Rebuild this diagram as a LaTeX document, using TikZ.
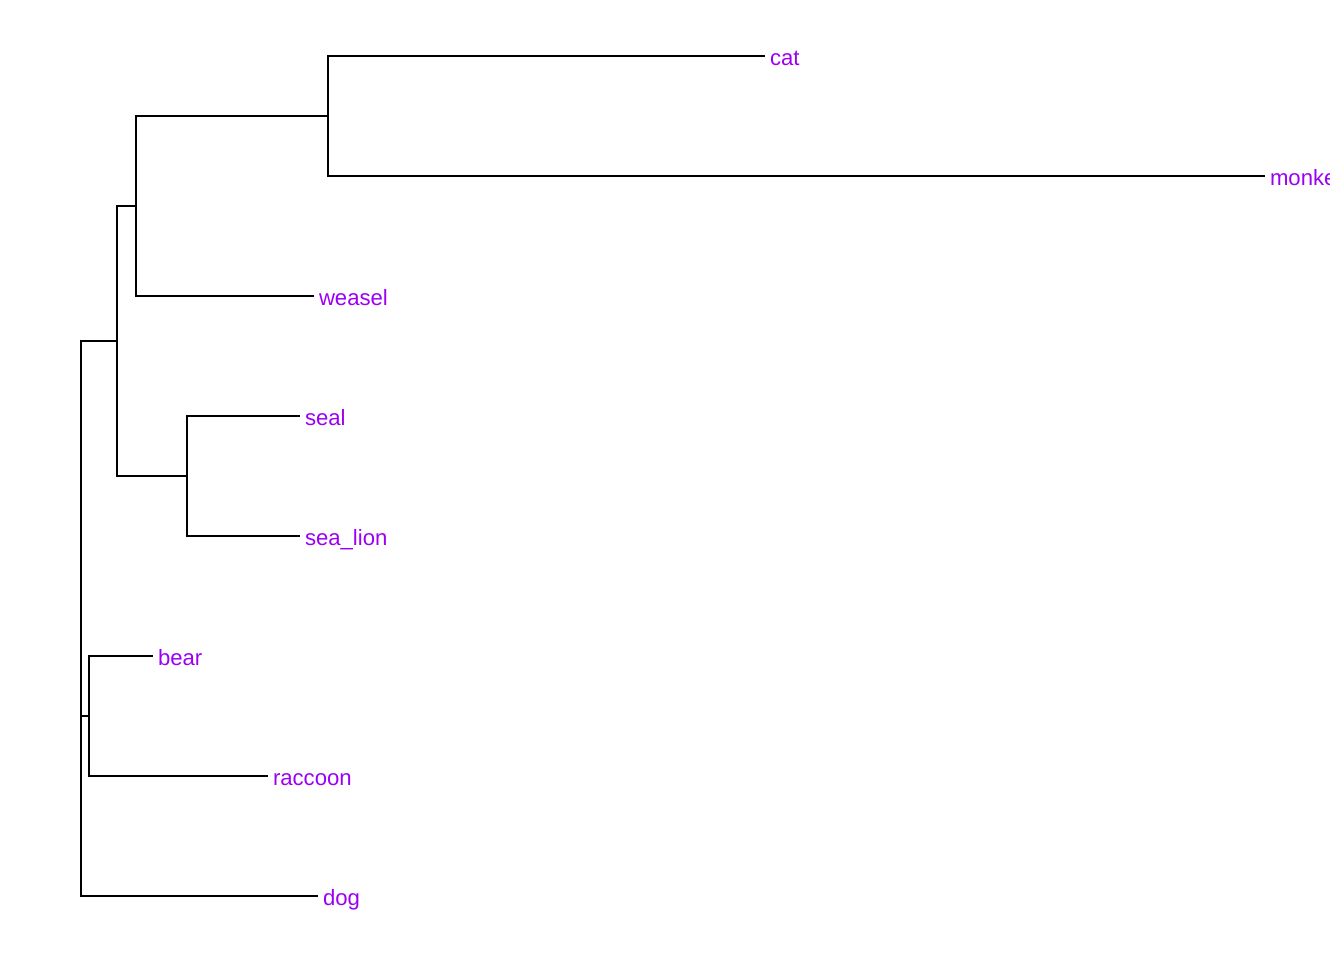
\documentclass[tikz,border=0pt]{standalone}
\usepackage{fontspec}
\setmainfont{Liberation Sans}
\definecolor{tiplab}{RGB}{155,0,245}
\begin{document}
\begin{tikzpicture}[x=0.75pt,y=-0.75pt,
  branch/.style={line width=2.1pt,line cap=rect,line join=miter},
  tiplabel/.style={text=tiplab,anchor=base west,inner sep=0pt,
    xshift=4.3pt,yshift=-6.9pt,font=\fontsize{16.6pt}{19pt}\selectfont}]
\useasboundingbox (0,0) rectangle (1344,960);
% internal nodes of the tree
\coordinate (root) at (81,618);
\coordinate (carn) at (117,341);
\coordinate (mus)  at (136,206);
\coordinate (cm)   at (328,116);
\coordinate (pin)  at (187,476);
\coordinate (urs)  at (89,716);
% tips
\coordinate (cat)     at (764,56);
\coordinate (monkey)  at (1264,176);
\coordinate (weasel)  at (313,296);
\coordinate (seal)    at (299,416);
\coordinate (sealion) at (299,536);
\coordinate (bear)    at (152,656);
\coordinate (raccoon) at (267,776);
\coordinate (dog)     at (317,896);
% branches
\draw[branch] (root) |- (carn);
\draw[branch] (root) |- (urs);
\draw[branch] (root) |- (dog);
\draw[branch] (carn) |- (mus);
\draw[branch] (carn) |- (pin);
\draw[branch] (mus) |- (cm);
\draw[branch] (mus) |- (weasel);
\draw[branch] (cm) |- (cat);
\draw[branch] (cm) |- (monkey);
\draw[branch] (pin) |- (seal);
\draw[branch] (pin) |- (sealion);
\draw[branch] (urs) |- (bear);
\draw[branch] (urs) |- (raccoon);
% tip labels, clipped at the panel edge
\begin{scope}
\clip (0,0) rectangle (1329,960);
\node[tiplabel] (lcat) at (cat) {cat};
\node[tiplabel] (lmonkey) at (monkey) {monkey};
\node[tiplabel] (lweasel) at (weasel) {weasel};
\node[tiplabel] (lseal) at (seal) {seal};
\node[tiplabel] (lsealion) at (sealion) {sea\_lion};
\node[tiplabel] (lbear) at (bear) {bear};
\node[tiplabel] (lraccoon) at (raccoon) {raccoon};
\node[tiplabel] (ldog) at (dog) {dog};
\end{scope}
\end{tikzpicture}
\end{document}
